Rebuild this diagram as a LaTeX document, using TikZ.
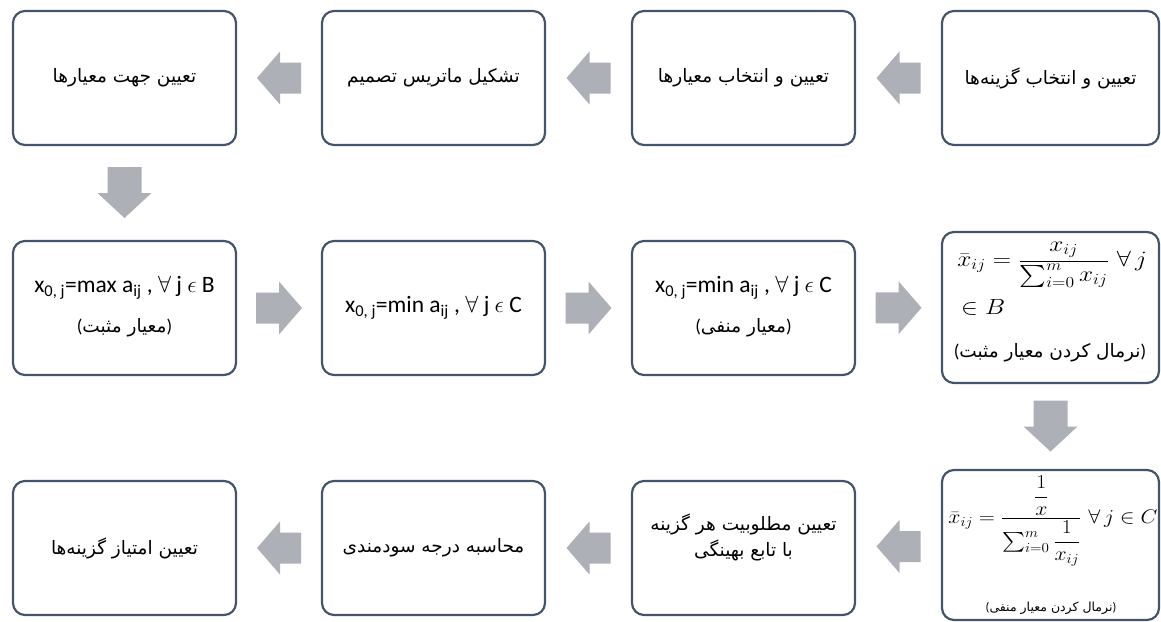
\RequirePackage{fix-cm}
\documentclass[tikz,border=0pt]{standalone}
\usepackage{amsmath}
\usepackage{graphicx}
\usepackage{fontspec}
\newfontfamily\fa[Script=Arabic]{DejaVu Sans}
\newfontfamily\lat{Carlito}
\TeXXeTstate=1
\newcommand\lpar{{\lat(}}
\newcommand\rpar{{\lat)}}
\usetikzlibrary{calc}
\definecolor{boxc}{HTML}{44546A}
\definecolor{arrc}{HTML}{ADB0B7}
\begin{document}
\begin{tikzpicture}[x=1pt,y=-1pt,
  box/.style={draw=boxc,line width=2.2pt,rounded corners=12pt,minimum width=223pt,minimum height=134pt,inner sep=0pt,font=\fa\fontsize{18.5}{26}\selectfont,align=center},
  boxr/.style={box,minimum width=217pt},
  fatxt/.style={font=\fa\fontsize{18.5}{26}\selectfont,align=center,inner sep=0pt},
  fasmall/.style={font=\fa\fontsize{12.5}{15}\selectfont,inner sep=0pt},
  lattxt/.style={font=\lat\fontsize{23.5}{28}\selectfont,inner sep=0pt},
  mathtxt/.style={font=\fontsize{20.74}{25}\selectfont,inner sep=0pt},
  pics/larrow/.style={code={\fill[arrc] (-22,0) -- (1,-26.5) -- (1,-15.5) -- (22,-15.5) -- (22,15.5) -- (1,15.5) -- (1,26.5) -- cycle;}},
  pics/rarrow/.style={code={\fill[arrc] (23,0) -- (0,-26.5) -- (0,-15.5) -- (-23,-15.5) -- (-23,15.5) -- (0,15.5) -- (0,26.5) -- cycle;}},
  pics/darrow/.style={code={\fill[arrc] (0,25) -- (-27,0) -- (-17,0) -- (-17,-26) -- (17,-26) -- (17,0) -- (27,0) -- cycle;}}
]
\useasboundingbox (0,0) rectangle (1161,621);
\clip (0,0) rectangle (1161,621);

% row 1
\node[boxr] (b4) at (1050.5,78) {\beginR تعیین و انتخاب گزینه‌ها\endR};
\node[box] (b3) at (743.5,78) {\beginR تعیین و انتخاب معیارها\endR};
\node[box] (b2) at (433.5,78) {\beginR تشکیل ماتریس تصمیم\endR};
\node[box] (b1) at (124.5,78) {\beginR تعیین جهت معیارها\endR};

% row 2
\node[box] (a1) at (124.5,308) {};
\node[box] (a2) at (433.5,308) {};
\node[box] (a3) at (743.5,308) {};
\node[boxr,minimum height=151pt] (a4) at (1050.5,307.5) {};

\node[lattxt] (a1l) at (124.5,288) {x\textsubscript{0, j}=max a\textsubscript{ij} , $\forall$ j $\epsilon$ B};
\node[fatxt] (a1p) at (124.5,328) {\lpar\beginR معیار مثبت\endR\rpar};
\node[lattxt] (a2l) at (433.5,308) {x\textsubscript{0, j}=min a\textsubscript{ij} , $\forall$ j $\epsilon$ C};
\node[lattxt] (a3l) at (743.5,288) {x\textsubscript{0, j}=min a\textsubscript{ij} , $\forall$ j $\epsilon$ C};
\node[fatxt] (a3p) at (743.5,328) {\lpar\beginR معیار منفی\endR\rpar};
\node[mathtxt] (a4f) at (1052,265) {\scalebox{1.22}[1.06]{$\bar{x}_{ij}=\dfrac{x_{ij}}{\sum\nolimits_{i=0}^{m}x_{ij}}\ \forall\, j$}};
\node[mathtxt,anchor=west] (a4g) at (961,307) {\scalebox{1.22}[1.06]{$\in B$}};
\node[fatxt] (a4p) at (1050,353) {\lpar\beginR نرمال کردن معیار مثبت\endR\rpar};

% row 3
\node[boxr,minimum height=150pt] (c4) at (1050.5,545) {};
\node[box] (c3) at (743.5,548) {};
\node[box] (c2) at (433.5,548) {\beginR محاسبه درجه سودمندی\endR};
\node[box] (c1) at (124.5,548) {\beginR تعیین امتیاز گزینه‌ها\endR};

\node[mathtxt] (c4f) at (1053,521) {\scalebox{1.05}[0.95]{$\bar{x}_{ij}=\dfrac{\dfrac{1}{x}}{\sum\nolimits_{i=0}^{m}\dfrac{1}{x_{ij}}}\ \forall\, j\in C$}};
\node[fasmall] (c4p) at (1051,608) {\lpar\beginR نرمال کردن معیار منفی\endR\rpar};
\node[fatxt] (c3t) at (743.5,537) {\beginR تعیین مطلوبیت هر گزینه\endR\\\beginR با تابع بهینگی\endR};

% arrows
\pic at ($(b4.west)!0.5!(b3.east)$) {larrow};
\pic at ($(b3.west)!0.5!(b2.east)$) {larrow};
\pic at ($(b2.west)!0.5!(b1.east)$) {larrow};
\pic at ($(b1.south)!0.5!(a1.north)$) {darrow};
\pic at ($(a1.east)!0.5!(a2.west)$) {rarrow};
\pic at ($(a2.east)!0.5!(a3.west)$) {rarrow};
\pic at ($(a3.east)!0.5!(a4.west)$) {rarrow};
\pic at ($(a4.south)!0.5!(c4.north)$) {darrow};
\pic at ($(c4.west)!0.5!(c3.east)$) {larrow};
\pic at ($(c3.west)!0.5!(c2.east)$) {larrow};
\pic at ($(c2.west)!0.5!(c1.east)$) {larrow};
\end{tikzpicture}
\end{document}
